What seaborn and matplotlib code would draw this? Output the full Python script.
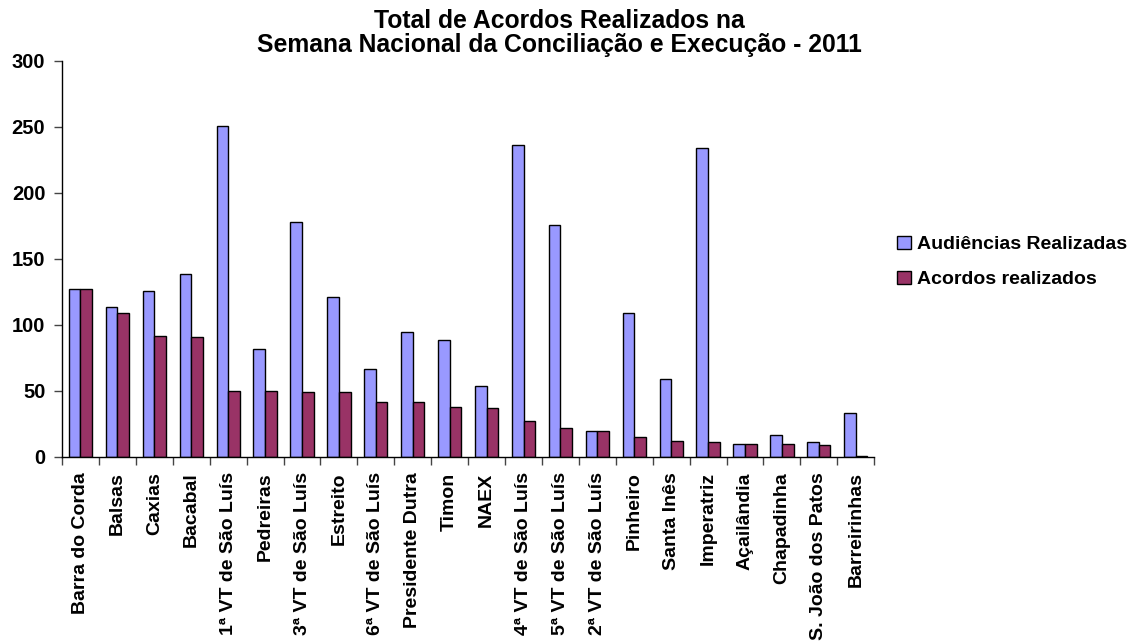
import numpy as np
import pandas as pd
import matplotlib
matplotlib.use('Agg')
import matplotlib.pyplot as plt
import seaborn as sns
from matplotlib.ticker import FixedLocator

# data
varas = ['Barra do Corda', 'Balsas', 'Caxias', 'Bacabal', '1ª VT de São Luís',
         'Pedreiras', '3ª VT de São Luís', 'Estreito', '6ª VT de São Luís',
         'Presidente Dutra', 'Timon', 'NAEX', '4ª VT de São Luís',
         '5ª VT de São Luís', '2ª VT de São Luís', 'Pinheiro', 'Santa Inês',
         'Imperatriz', 'Açailândia', 'Chapadinha', 'S. João dos Patos',
         'Barreirinhas']
audiencias = [127, 114, 126, 139, 251, 82, 178, 121, 67, 95, 89, 54, 236,
              176, 20, 109, 59, 234, 10, 17, 11, 33]
acordos = [127, 109, 92, 91, 50, 50, 49, 49, 42, 42, 38, 37, 27, 22, 20, 15,
           12, 11, 10, 10, 9, 1]
series = ['Audiências Realizadas', 'Acordos realizados']
cores = ['#9999FF', '#993366']

df = pd.DataFrame({
    'Vara': varas * 2,
    'Valor': audiencias + acordos,
    'Serie': [series[0]] * len(varas) + [series[1]] * len(varas),
})

sns.set_style('white')
plt.rcParams['font.family'] = ['Liberation Sans', 'DejaVu Sans']
plt.rcParams['font.weight'] = 'bold'
plt.rcParams['text.color'] = 'black'

fig = plt.figure(figsize=(11.32, 6.44), dpi=100)
ax = fig.add_axes([0.0548, 0.2904, 0.7175, 0.6149])

sns.barplot(data=df, x='Vara', y='Valor', hue='Serie', palette=cores,
            width=0.63, edgecolor='black', linewidth=1.0, saturation=1,
            errorbar=None, ax=ax)

ax.set_ylim(0, 300)
ax.set_xlim(-0.5, len(varas) - 0.5)
ax.set_yticks(range(0, 301, 50))
ax.set_xlabel('')
ax.set_ylabel('')
sns.despine(ax=ax)
for s in ['left', 'bottom']:
    ax.spines[s].set_color('black')
    ax.spines[s].set_linewidth(1.0)

ax.set_xticks(range(len(varas)))
ax.set_xticklabels(varas, rotation=90, fontsize=14, fontweight='bold')
ax.tick_params(axis='x', which='major', length=0, pad=11, labelcolor='black')
ax.xaxis.set_minor_locator(FixedLocator(np.arange(-0.5, len(varas), 1)))
ax.tick_params(axis='x', which='minor', bottom=True, length=6, width=1,
               color='#444444')
ax.tick_params(axis='y', left=True, length=6, width=1, color='#444444',
               labelsize=14.5, pad=6, labelcolor='black')
for t in ax.get_yticklabels():
    t.set_fontweight('bold')

ax.legend(loc='center left', bbox_to_anchor=(0.777, 0.593),
          bbox_transform=fig.transFigure, frameon=False,
          prop={'size': 14, 'weight': 'bold'}, handlelength=0.7,
          handleheight=0.7, handletextpad=0.3, labelspacing=0.9)

fig.text(0.494, 0.986, 'Total de Acordos Realizados na\nSemana Nacional da Conciliação e Execução - 2011',
         ha='center', va='top', fontsize=17.8, fontweight='bold',
         linespacing=1.02)

fig.savefig('out.png', dpi=100)
